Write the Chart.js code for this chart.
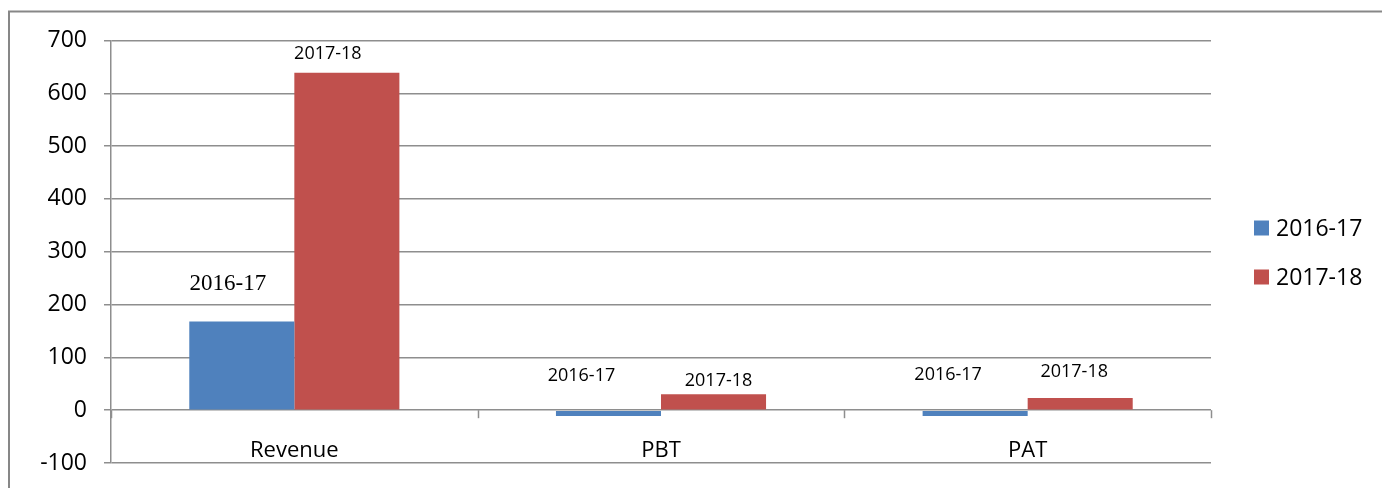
<!DOCTYPE html>
<html>
<head>
<meta charset="utf-8">
<script src="https://cdn.jsdelivr.net/npm/chart.js@4"></script>
<style>
  html, body { margin: 0; padding: 0; background: #ffffff; }
  #wrap { width: 1382px; height: 488px; }
</style>
</head>
<body>
<div id="wrap"><canvas id="c" width="1382" height="488"></canvas></div>
<script>
// ---- data ----
const categories = ['Revenue', 'PBT', 'PAT'];
const seriesNames = ['2016-17', '2017-18'];
const values2016 = [168, -11, -11];
const values2017 = [639, 30, 23];
const yTicks = [-100, 0, 100, 200, 300, 400, 500, 600, 700];

// ---- styling (label placement relative to each bar, in px) ----
const colors = ['#4F81BD', '#C0504D'];
const sans = '"Open Sans"';
const labelStyle = [
  // series 0 (2016-17)
  [ {dx: -14, dy: -38, font: '23px "Liberation Serif"'},
    {dx: -27, dy: -34, font: '18px ' + sans},
    {dx: -27, dy: -35, font: '18px ' + sans} ],
  // series 1 (2017-18)
  [ {dx: -19, dy: -19, font: '18px ' + sans},
    {dx: 5, dy: -13, font: '18px ' + sans},
    {dx: -6, dy: -26, font: '18px ' + sans} ]
];
const gridColor = '#8e8e8e';

const decor = {
  id: 'decor',
  beforeDraw(chart) {
    const ctx = chart.ctx;
    ctx.save();
    ctx.fillStyle = '#ffffff';
    ctx.fillRect(0, 0, chart.width, chart.height);
    ctx.strokeStyle = '#878787';
    ctx.lineWidth = 2;
    ctx.strokeRect(9, 11.5, 1500, 600);
    ctx.restore();
  },
  afterDraw(chart) {
    const ctx = chart.ctx;
    const x = chart.scales.x, y = chart.scales.y;
    ctx.save();
    // category boundary tick marks on the zero line
    ctx.strokeStyle = gridColor;
    ctx.lineWidth = 1.5;
    const y0 = y.getPixelForValue(0);
    for (let i = 0; i <= categories.length; i++) {
      const px = Math.round(x.getPixelForValue(i - 0.5)) + 0.5;
      ctx.beginPath();
      ctx.moveTo(px, y0);
      ctx.lineTo(px, y0 + 8);
      ctx.stroke();
    }
    // category labels (drawn through the x scale positions)
    ctx.fillStyle = '#000000';
    ctx.textAlign = 'center';
    ctx.textBaseline = 'middle';
    ctx.font = '22px ' + sans;
    const yLab = y.getPixelForValue(-100) - 12;
    categories.forEach((c, i) => ctx.fillText(c, x.getPixelForValue(i), yLab));
    // data labels (series names)
    chart.data.datasets.forEach((ds, di) => {
      const meta = chart.getDatasetMeta(di);
      meta.data.forEach((bar, i) => {
        const st = labelStyle[di][i];
        const top = y.getPixelForValue(Math.max(ds.data[i], 0));
        ctx.font = st.font;
        ctx.fillText(ds.label, bar.x + st.dx, top + st.dy);
      });
    });
    // legend
    const lx = 1254, ly = [228, 277];
    ctx.textAlign = 'left';
    ctx.font = '23px ' + sans;
    chart.data.datasets.forEach((ds, di) => {
      ctx.fillStyle = ds.backgroundColor;
      ctx.fillRect(lx, ly[di] - 7.5, 15, 15);
      ctx.fillStyle = '#000000';
      ctx.fillText(ds.label, lx + 22, ly[di] + 1);
    });
    ctx.restore();
  }
};

new Chart(document.getElementById('c'), {
  type: 'bar',
  data: {
    labels: categories,
    datasets: [
      { label: seriesNames[0], data: values2016, backgroundColor: colors[0], borderWidth: 0,
        categoryPercentage: 0.573, barPercentage: 1.0 },
      { label: seriesNames[1], data: values2017, backgroundColor: colors[1], borderWidth: 0,
        categoryPercentage: 0.573, barPercentage: 1.0 }
    ]
  },
  options: {
    responsive: false,
    animation: false,
    events: [],
    layout: { padding: { left: 0, right: 171, top: 40.5, bottom: 25 } },
    plugins: { legend: { display: false }, tooltip: { enabled: false } },
    scales: {
      x: {
        position: 'bottom',
        grid: { display: false, drawTicks: false },
        border: { display: false },
        ticks: { display: false },
        afterFit(s) { s.height = 0; }
      },
      y: {
        min: -100, max: 700,
        afterBuildTicks(s) { s.ticks = yTicks.map(v => ({ value: v })); },
        grid: { color: gridColor, lineWidth: 1.5, tickLength: 7, drawTicks: true },
        border: { display: true, color: gridColor, width: 1.5 },
        ticks: { color: '#000', font: { family: 'Open Sans', size: 23 }, padding: 17 },
        afterFit(s) { s.width = 111; s.paddingTop = 0; s.paddingBottom = 0; }
      }
    }
  },
  plugins: [decor]
});
</script>
</body>
</html>
